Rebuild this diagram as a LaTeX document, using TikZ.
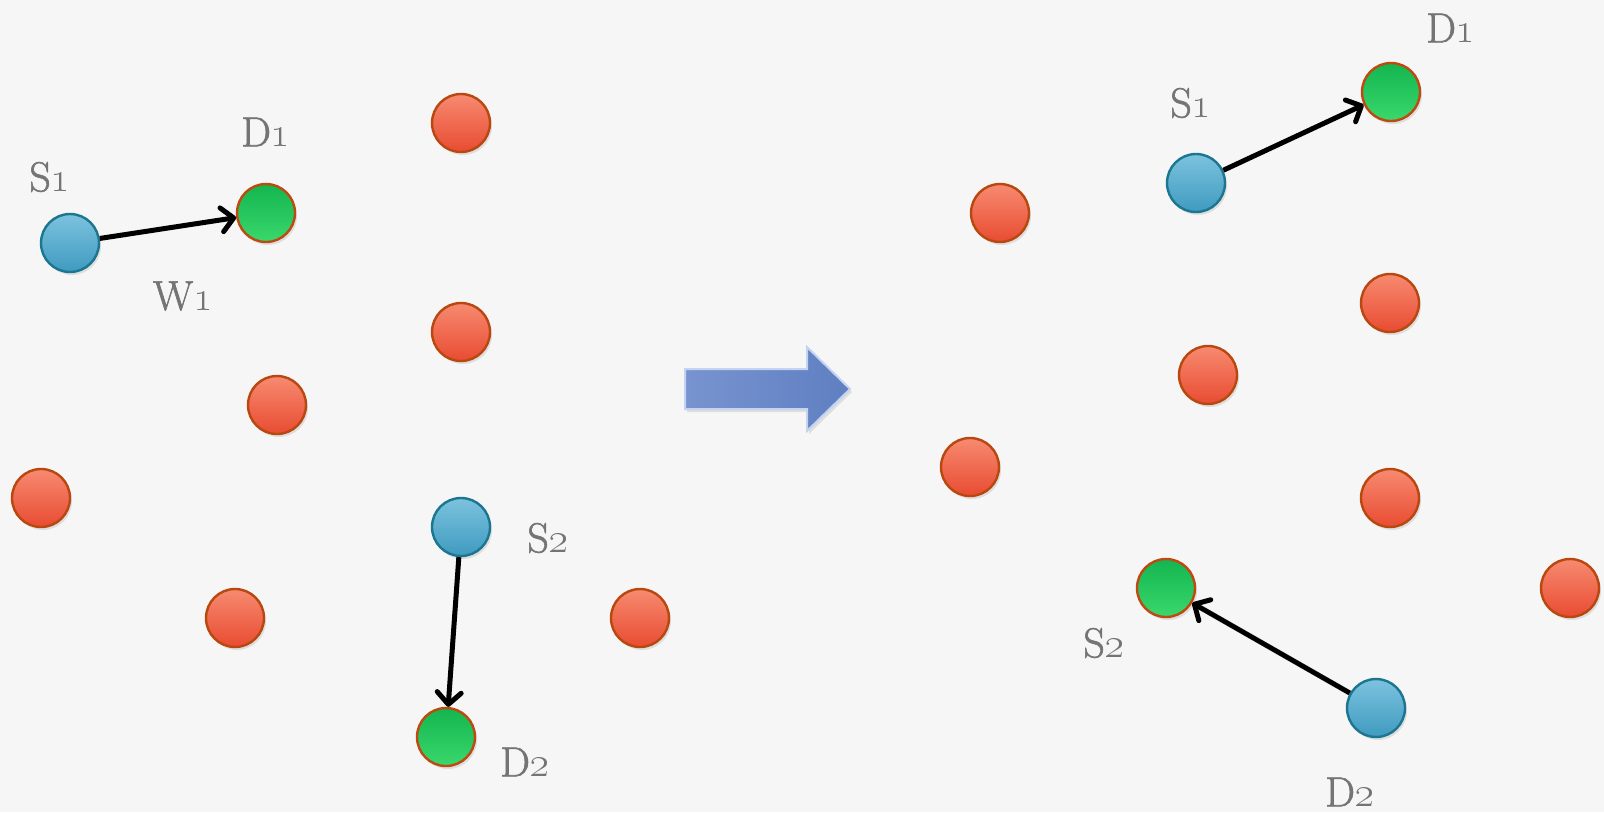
\RequirePackage{fix-cm}
\documentclass[tikz,border=0pt]{standalone}
\usetikzlibrary{arrows.meta,shadows}

\definecolor{bgcol}{HTML}{F6F6F6}
\definecolor{labelgray}{HTML}{747474}
\definecolor{srctop}{HTML}{7CC2DE}
\definecolor{srcbot}{HTML}{3F9BC0}
\definecolor{srcedge}{HTML}{1C7690}
\definecolor{dsttop}{HTML}{14B550}
\definecolor{dstbot}{HTML}{3AD86C}
\definecolor{dstedge}{HTML}{BE4A12}
\definecolor{reltop}{HTML}{F78A70}
\definecolor{relbot}{HTML}{E84C32}
\definecolor{reledge}{HTML}{B8480F}
\definecolor{bigleft}{HTML}{7893CF}
\definecolor{bigmid}{HTML}{3C5EAA}
\definecolor{bigright}{HTML}{5F7FC2}
\definecolor{bigedge}{HTML}{C4D3F0}

\tikzset{
  dot/.style={circle, minimum size=58pt, inner sep=0pt, line width=2.4pt,
    drop shadow={opacity=0.2, shadow xshift=2pt, shadow yshift=-3pt}},
  source/.style={dot, draw=srcedge, top color=srctop, bottom color=srcbot},
  dest/.style={dot, draw=dstedge, top color=dsttop, bottom color=dstbot},
  relay/.style={dot, draw=reledge, top color=reltop, bottom color=relbot},
  lbl/.style={text=labelgray, inner sep=0pt, font=\fontsize{42}{48}\selectfont},
  link/.style={line width=5pt, -{Straight Barb[length=12pt,width=24pt,line cap=round,line join=round]}},
}

\newcommand{\osn}[1]{\oldstylenums{#1}}
% slightly heavier glyphs: fill and stroke the outlines
\newcommand{\lab}[1]{\special{pdf:literal 2 Tr 0.6 w}#1\special{pdf:literal 0 Tr}}

\begin{document}
\begin{tikzpicture}[x=1pt,y=-1pt]
  % canvas
  \fill[bgcol] (0,0) rectangle (1604,812);
  \useasboundingbox (0,0) rectangle (1604,812);

  % ---------- left configuration ----------
  \node[relay] (la) at (461,123) {};
  \node[relay] (lb) at (461,332) {};
  \node[relay] (lc) at (277,405) {};
  \node[relay] (ld) at (41,498) {};
  \node[relay] (le) at (235,618) {};
  \node[relay] (lf) at (640,618) {};

  \node[source] (ls1) at (70,243) {};
  \node[dest]   (ld1) at (266,213) {};
  \node[source] (ls2) at (461,527) {};
  \node[dest]   (ld2) at (446,737) {};

  \draw[link] (ls1) -- (ld1);
  \draw[link] (ls2) -- (ld2);

  \node[lbl] (tls1) at (50,177)  {\lab{S\osn{1}}};
  \node[lbl] (tld1) at (266,132) {\lab{D\osn{1}}};
  \node[lbl] (tlw1) at (183,296) {\lab{W\osn{1}}};
  \node[lbl] (tls2) at (548,538) {\lab{S\osn{2}}};
  \node[lbl] (tld2) at (525,762) {\lab{D\osn{2}}};

  % ---------- block arrow ----------
  \path[left color=bigleft, middle color=bigmid, right color=bigright,
        draw=bigedge, line width=2pt, line join=miter,
        drop shadow={opacity=0.2, shadow xshift=2pt, shadow yshift=-3pt}]
    (685,369) -- (807,369) -- (807,347) -- (850,389) -- (807,431)
    -- (807,409) -- (685,409) -- cycle;

  % ---------- right configuration ----------
  \node[relay] (ra) at (1000,213) {};
  \node[relay] (rb) at (1390,303) {};
  \node[relay] (rc) at (1208,375) {};
  \node[relay] (rd) at (970,467) {};
  \node[relay] (re) at (1390,498) {};
  \node[relay] (rf) at (1570,588) {};

  \node[source] (rs1) at (1196,183) {};
  \node[dest]   (rd1) at (1391,92)  {};
  \node[dest]   (rs2) at (1166,588) {};
  \node[source] (rd2) at (1376,708) {};

  \draw[link] (rs1) -- (rd1);
  \draw[link] (rd2) -- (rs2);

  \node[lbl] (trs1) at (1191,103) {\lab{S\osn{1}}};
  \node[lbl] (trd1) at (1451,28)  {\lab{D\osn{1}}};
  \node[lbl] (trs2) at (1104,643) {\lab{S\osn{2}}};
  \node[lbl] (trd2) at (1350,792) {\lab{D\osn{2}}};
\end{tikzpicture}
\end{document}
